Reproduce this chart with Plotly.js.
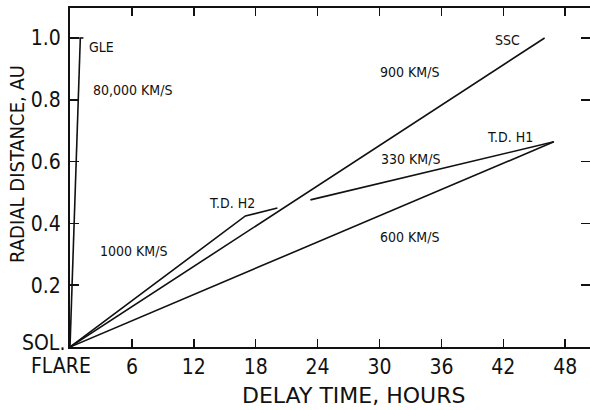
<!DOCTYPE html>
<html>
<head>
<meta charset="utf-8">
<script src="https://cdn.plot.ly/plotly-3.0.1.min.js"></script>
<style>
  html, body { margin: 0; padding: 0; background: #fff; }
  #chart { width: 590px; height: 410px; }
</style>
</head>
<body>
<div id="chart"></div>
<script>
// ---- data (hours after flare, radial distance in AU) ----
const gleX = [0, 1.0];
const gleY = [0, 1.0];
const gleCapX = [0.9, 1.3];
const gleCapY = [1.0, 1.0];
const sscX = [0, 46.0];
const sscY = [0, 1.0];
const h1X = [0, 46.9];
const h1Y = [0, 0.664];
const h1SlowX = [23.3, 46.9];
const h1SlowY = [0.476, 0.664];
const h2X = [0, 17.0, 20.1];
const h2Y = [0, 0.424, 0.45];

const xTickVals = [6, 12, 18, 24, 30, 36, 42, 48];
const xTickText = ['6', '12', '18', '24', '30', '36', '42', '48'];
const yTickVals = [0.2, 0.4, 0.6, 0.8, 1.0];
const yTickText = ['0.2', '0.4', '0.6', '0.8', '1.0'];
const originX = 'FLARE';
const originY = 'SOL.';
const xTitle = 'DELAY TIME, HOURS';
const yTitle = 'RADIAL DISTANCE, AU';

const labelText = ['GLE', '80,000 KM/S', '1000 KM/S', 'T.D. H2', '900 KM/S', 'SSC', '330 KM/S', 'T.D. H1', '600 KM/S'];
const labelX = [1.65, 2.05, 2.7, 13.3, 29.85, 41.0, 29.95, 40.2, 29.85];
const labelY = [0.971, 0.832, 0.311, 0.466, 0.89, 0.994, 0.608, 0.68, 0.356];

const ink = '#111';
const tickFont = { family: '"Liberation Sans Narrow", "DejaVu Sans Condensed", sans-serif', size: 21, color: ink };
const noteFont = { family: '"DejaVu Sans Condensed", sans-serif', size: 14, color: ink };

function seg(x, y) {
  return { x: x, y: y, type: 'scatter', mode: 'lines', line: { color: ink, width: 1.6 }, hoverinfo: 'skip', showlegend: false };
}
const traces = [
  seg(gleX, gleY), seg(gleCapX, gleCapY), seg(sscX, sscY),
  seg(h1X, h1Y), seg(h1SlowX, h1SlowY), seg(h2X, h2Y)
];

const annotations = labelText.map((t, i) => ({
  text: t, x: labelX[i], y: labelY[i], xref: 'x', yref: 'y',
  xanchor: 'left', yanchor: 'middle', showarrow: false, font: noteFont
}));
annotations.push({ text: originY, x: -0.006, y: 0.012, xref: 'paper', yref: 'paper', xanchor: 'right', yanchor: 'middle', showarrow: false, font: tickFont });
annotations.push({ text: originX, x: -0.017, y: -0.056, xref: 'paper', yref: 'paper', xanchor: 'center', yanchor: 'middle', showarrow: false, font: tickFont });
annotations.push({ text: xTitle, x: 0.546, y: -0.142, xref: 'paper', yref: 'paper', xanchor: 'center', yanchor: 'middle', showarrow: false,
  font: { family: '"DejaVu Sans", sans-serif', size: 22, color: ink } });
annotations.push({ text: yTitle, x: -0.102, y: 0.54, xref: 'paper', yref: 'paper', xanchor: 'center', yanchor: 'middle', showarrow: false, textangle: -90,
  font: { family: '"DejaVu Sans Condensed", sans-serif', size: 20, color: ink } });

const layout = {
  width: 590, height: 410,
  margin: { l: 70, r: 0, t: 8, b: 63 },
  paper_bgcolor: '#fff', plot_bgcolor: '#fff',
  showlegend: false,
  xaxis: {
    range: [0, 50.4], showgrid: false, zeroline: false,
    showline: true, linecolor: ink, linewidth: 2, mirror: 'allticks',
    ticks: 'inside', ticklen: 8, tickwidth: 1.5, tickcolor: ink,
    tickvals: xTickVals, ticktext: xTickText, tickfont: tickFont
  },
  yaxis: {
    range: [0, 1.097], showgrid: false, zeroline: false,
    showline: true, linecolor: ink, linewidth: 2, mirror: 'ticks',
    ticks: 'inside', ticklen: 9, tickwidth: 1.5, tickcolor: ink,
    tickvals: yTickVals, ticktext: yTickText, tickfont: tickFont,
    ticklabelstandoff: 3
  },
  annotations: annotations
};

Plotly.newPlot('chart', traces, layout, { staticPlot: true, displayModeBar: false });
</script>
</body>
</html>
